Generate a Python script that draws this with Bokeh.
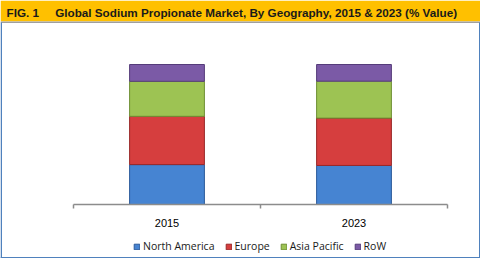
from bokeh.plotting import figure
from bokeh.models import (Legend, LegendItem, Range1d, ColumnDataSource, BoxAnnotation)
from bokeh.core.properties import value
from bokeh.embed import file_html
from bokeh.resources import INLINE

# ---- data ----
years = ["2015", "2023"]
north_america = [28.5, 27.9]
europe = [34.5, 33.8]
asia_pacific = [25.0, 26.4]
row = [12.0, 11.9]
series_names = ["North America", "Europe", "Asia Pacific", "RoW"]
title_text = "FIG. 1\u00a0\u00a0\u00a0\u00a0\u00a0Global Sodium Propionate Market, By Geography, 2015 & 2023 (% Value)"

fills = ["#4684D2", "#D63E3E", "#9DC353", "#7B5AA6"]
edges = ["#2C5A9A", "#992828", "#6E8F33", "#553C7A"]
border_blue = "#4F81BD"
gold = "#FFC000"

# ---- layout geometry (pixels) ----
W, H = 480, 258
header_h = 21
axis_left_px, slot_px = 73, 187          # category slot width in px
axis_y_px, px_per_pct = 204, 1.4         # 100 % = 140 px
n = len(years)
centres = [i + 0.5 for i in range(n)]
bounds = list(range(n + 1))

x_range = Range1d(-axis_left_px / slot_px, (W - axis_left_px) / slot_px)
y_range = Range1d(-(H - axis_y_px) / px_per_pct, (axis_y_px - header_h) / px_per_pct)

p = figure(width=W, height=H, x_range=x_range, y_range=y_range,
           output_backend="svg", toolbar_location=None,
           min_border_left=0, min_border_right=0, min_border_top=header_h, min_border_bottom=0,
           x_axis_location=None, y_axis_location=None, outline_line_color=None,
           border_fill_color=gold, background_fill_color="white",
           title=title_text)
p.grid.visible = False
p.title.text_font = "Liberation Sans"
p.title.text_font_style = "bold"
p.title.text_font_size = "11.7px"
p.title.text_color = "#1A1A1A"
p.title.align = "left"
p.title.offset = 6
p.title.standoff = 5

# frame decorations: dark line under header, blue border
p.add_layout(BoxAnnotation(bottom=H - header_h - 1, bottom_units="screen",
                           fill_color="#404040", fill_alpha=1, line_color=None))
p.add_layout(BoxAnnotation(right=1.5, right_units="screen", top=H - header_h - 1, top_units="screen",
                           fill_color=border_blue, fill_alpha=1, line_color=None))
p.add_layout(BoxAnnotation(left=W - 1.5, left_units="screen", top=H - header_h - 1, top_units="screen",
                           fill_color=border_blue, fill_alpha=1, line_color=None))
p.add_layout(BoxAnnotation(top=1.5, top_units="screen",
                           fill_color=border_blue, fill_alpha=1, line_color=None))

# bars
source = ColumnDataSource(dict(x=centres, na=north_america, eu=europe, ap=asia_pacific, rw=row))
rs = p.vbar_stack(["na", "eu", "ap", "rw"], x="x", width=0.4, source=source,
                  fill_color=fills, line_color=edges, line_width=1)

# category axis: line, boundary ticks, labels
tick_len = 4 / px_per_pct
p.segment(x0=[bounds[0]], y0=[0], x1=[bounds[-1]], y1=[0], line_color="#8C8C8C", line_width=1.5)
p.segment(x0=bounds, y0=[0] * len(bounds), x1=bounds, y1=[-tick_len] * len(bounds),
          line_color="#8C8C8C", line_width=1.5)
p.text(x=centres, y=[0] * n, text=years, y_offset=18, text_align="center",
       text_baseline="middle", text_font=value("Liberation Sans"), text_font_size="11px",
       text_color="#000000")

legend = Legend(items=[LegendItem(label=s, renderers=[r]) for s, r in zip(series_names, rs)],
                orientation="horizontal", location=(133, 5),
                border_line_color=None, background_fill_alpha=0,
                label_text_font="Open Sans", label_text_font_size="10.5px",
                label_text_color="#1A1A1A",
                glyph_width=7, glyph_height=7, label_standoff=3, spacing=10,
                padding=0, margin=0, label_height=10)
p.add_layout(legend)

open("out.html", "w").write(file_html(p, INLINE))
